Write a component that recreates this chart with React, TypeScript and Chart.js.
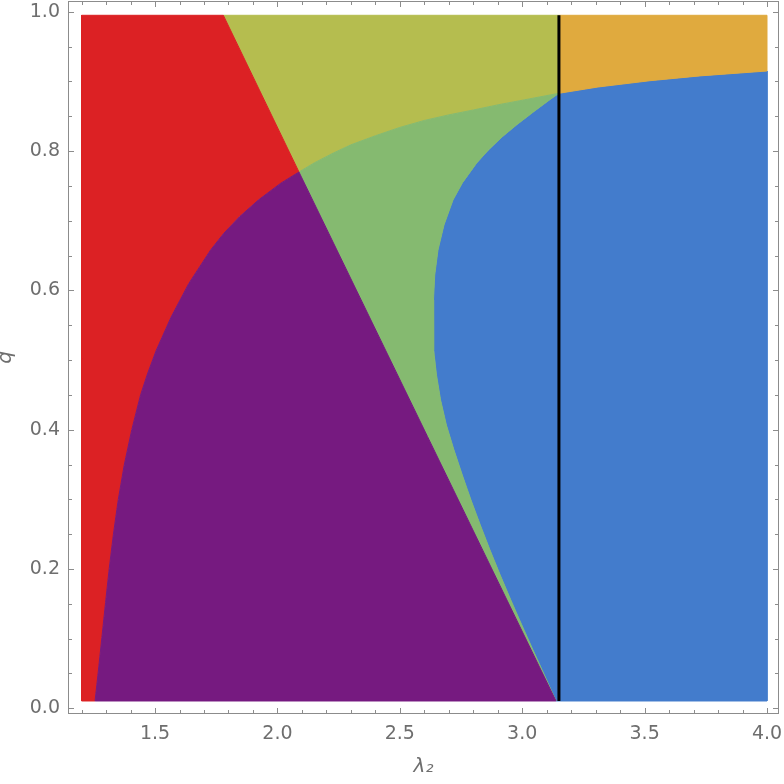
import React, { useEffect, useRef } from "react";
import { Chart, registerables } from "chart.js";

Chart.register(...registerables);

// ---- ranges ----
const lambdaMin = 1.2;
const lambdaMax = 4.0;
const qMin = 0.0105;
const qMax = 0.995;
const criticalLambda = 3.15;

const axisXMin = 1.14444;
const axisXMax = 4.04902;
const axisYMin = -0.00818;
const axisYMax = 1.01551;

// ---- ticks ----
const xMajorTicks = [1.5, 2.0, 2.5, 3.0, 3.5, 4.0];
const xMinorTicks = [1.2, 1.3, 1.4, 1.6, 1.7, 1.8, 1.9, 2.1, 2.2, 2.3, 2.4, 2.6, 2.7, 2.8, 2.9, 3.1, 3.2, 3.3, 3.4, 3.6, 3.7, 3.8, 3.9];
const yMajorTicks = [0.0, 0.2, 0.4, 0.6, 0.8, 1.0];
const yMinorTicks = [0.05, 0.1, 0.15, 0.25, 0.3, 0.35, 0.45, 0.5, 0.55, 0.65, 0.7, 0.75, 0.85, 0.9, 0.95];

// ---- boundary curves (lambda, q) ----
// red / purple boundary, from the bottom edge up to the triple point P
const lowerCurveLambda = [1.255, 1.268, 1.283, 1.298, 1.313, 1.33, 1.35, 1.374, 1.405, 1.441, 1.469, 1.505, 1.566, 1.638, 1.727, 1.781, 1.846, 1.923, 2.014, 2.088];
const lowerCurveQ = [0.0105, 0.052, 0.102, 0.152, 0.201, 0.25, 0.3, 0.349, 0.4, 0.45, 0.48, 0.514, 0.562, 0.61, 0.658, 0.682, 0.706, 0.73, 0.754, 0.77];

// straight boundary: top edge, P, bottom edge
const diagonalLambda = [1.779, 2.088, 3.138];
const diagonalQ = [0.995, 0.77, 0.0105];

// upper boundary from P to the right edge (passes through Q on the critical line)
const upperCurveLambda = [2.088, 2.15, 2.227, 2.3, 2.4, 2.5, 2.6, 2.7, 2.8, 2.909, 3.0, 3.15, 3.309, 3.52, 3.726, 4.0];
const upperCurveQ = [0.77, 0.783, 0.797, 0.809, 0.822, 0.834, 0.844, 0.852, 0.859, 0.867, 0.873, 0.883, 0.892, 0.901, 0.908, 0.915];

// green / blue boundary from Q down to the bottom edge
const innerCurveLambda = [3.15, 3.1114, 3.0456, 2.9766, 2.9177, 2.862, 2.8142, 2.7554, 2.7172, 2.6804, 2.6559, 2.6426, 2.6375, 2.6367, 2.6395, 2.6498, 2.6665, 2.6902, 2.7212, 2.7551, 2.7907, 2.8287, 2.8683, 2.91, 2.9533, 2.9982, 3.044, 3.0905, 3.138];
const innerCurveQ = [0.883, 0.8734, 0.8562, 0.8375, 0.8203, 0.8016, 0.783, 0.7543, 0.7298, 0.6939, 0.658, 0.6221, 0.5862, 0.5503, 0.5144, 0.4785, 0.4426, 0.4067, 0.3709, 0.335, 0.2991, 0.2632, 0.2273, 0.1914, 0.1556, 0.1197, 0.0838, 0.0479, 0.0105];

// ---- colours ----
const regionColors = {
  red: "#DC2124",
  purple: "#761A80",
  olive: "#B5BD4F",
  orange: "#E0AA3E",
  green: "#85BA70",
  blue: "#437CCC",
};
const frameColor = "#8c8c8c";
const labelColor = "#6e6e6e";
const fontFamily = "'DejaVu Sans', sans-serif";

type P = { x: number; y: number };
const pts = (ls: number[], qs: number[]): P[] => ls.map((l, i) => ({ x: l, y: qs[i] }));

function buildRegions() {
  const lower = pts(lowerCurveLambda, lowerCurveQ);
  const diag = pts(diagonalLambda, diagonalQ);
  const upper = pts(upperCurveLambda, upperCurveQ);
  const inner = pts(innerCurveLambda, innerCurveQ);
  const qIdx = upperCurveLambda.indexOf(criticalLambda);
  const upperLeft = upper.slice(0, qIdx + 1);
  const upperRight = upper.slice(qIdx);
  const P0 = lower[lower.length - 1];
  const diagTop = diag[0];
  const diagBottom = diag[diag.length - 1];

  const close = (a: P[]) => [...a, a[0]];

  const red = close([{ x: lambdaMin, y: qMin }, ...lower, diagTop, { x: lambdaMin, y: qMax }]);
  const purple = close([...lower, diagBottom]);
  const olive = close([diagTop, ...upperLeft, { x: criticalLambda, y: qMax }]);
  const orange = close([{ x: criticalLambda, y: qMax }, ...upperRight, { x: lambdaMax, y: qMax }]);
  const green = close([...upperLeft, ...inner.slice(1), P0]);
  const blue = close([...upperRight, { x: lambdaMax, y: qMin }, ...inner.slice().reverse()]);
  return { red, purple, olive, orange, green, blue };
}

const framePlugin = {
  id: "mmaFrame",
  afterDatasetsDraw(chart: any) {
    const { ctx, chartArea: a, scales } = chart;
    const x = scales.x;
    const y = scales.y;
    ctx.save();
    ctx.strokeStyle = frameColor;
    ctx.lineWidth = 1;
    ctx.strokeRect(a.left + 0.5, a.top + 0.5, a.right - a.left - 1, a.bottom - a.top - 1);
    ctx.beginPath();
    const xt = (vals: number[], len: number) => {
      for (const v of vals) {
        const px = Math.round(x.getPixelForValue(v)) + 0.5;
        ctx.moveTo(px, a.bottom);
        ctx.lineTo(px, a.bottom - len);
        ctx.moveTo(px, a.top);
        ctx.lineTo(px, a.top + len);
      }
    };
    const yt = (vals: number[], len: number) => {
      for (const v of vals) {
        const py = Math.round(y.getPixelForValue(v)) + 0.5;
        ctx.moveTo(a.left, py);
        ctx.lineTo(a.left + len, py);
        ctx.moveTo(a.right, py);
        ctx.lineTo(a.right - len, py);
      }
    };
    xt(xMajorTicks, 6);
    xt(xMinorTicks, 4);
    yt(yMajorTicks, 6);
    yt(yMinorTicks, 4);
    ctx.stroke();
    ctx.restore();
  },
};

export default function App() {
  const ref = useRef<HTMLCanvasElement>(null);

  useEffect(() => {
    const r = buildRegions();
    const poly = (data: P[], color: string) => ({
      data,
      borderColor: color,
      backgroundColor: color,
      borderWidth: 1,
      fill: "shape" as any,
      pointRadius: 0,
      tension: 0,
    });
    const chart = new Chart(ref.current!, {
      type: "line",
      data: {
        datasets: [
          {
            data: [
              { x: criticalLambda, y: qMin },
              { x: criticalLambda, y: qMax },
            ],
            borderColor: "#000000",
            borderWidth: 3,
            fill: false,
            pointRadius: 0,
          },
          poly(r.purple, regionColors.purple),
          poly(r.red, regionColors.red),
          poly(r.green, regionColors.green),
          poly(r.olive, regionColors.olive),
          poly(r.orange, regionColors.orange),
          poly(r.blue, regionColors.blue),
        ] as any,
      },
      options: {
        animation: false,
        responsive: false,
        devicePixelRatio: 1,
        layout: { padding: { top: 1, right: 5, left: 0, bottom: 0 } },
        plugins: { legend: { display: false }, tooltip: { enabled: false } },
        elements: { point: { radius: 0 }, line: { tension: 0 } },
        scales: {
          x: {
            type: "linear",
            min: axisXMin,
            max: axisXMax,
            grid: { display: false, drawTicks: false },
            border: { display: false },
            afterBuildTicks: (s: any) => {
              s.ticks = xMajorTicks.map((v) => ({ value: v }));
            },
            afterFit: (s: any) => {
              s.height = 70;
              s.paddingLeft = 0;
              s.paddingRight = 0;
            },
            ticks: {
              callback: (v: any) => Number(v).toFixed(1),
              font: { family: fontFamily, size: 19 },
              color: labelColor,
              padding: 9,
              maxRotation: 0,
              autoSkip: false,
            },
            title: {
              display: true,
              text: "λ₂",
              font: { family: fontFamily, size: 20, style: "italic" },
              color: labelColor,
              padding: { top: 0, bottom: 5 },
            },
          },
          y: {
            type: "linear",
            min: axisYMin,
            max: axisYMax,
            grid: { display: false, drawTicks: false },
            border: { display: false },
            afterBuildTicks: (s: any) => {
              s.ticks = yMajorTicks.map((v) => ({ value: v }));
            },
            afterFit: (s: any) => {
              s.width = 68;
              s.paddingTop = 0;
              s.paddingBottom = 0;
            },
            ticks: {
              callback: (v: any) => Number(v).toFixed(1),
              font: { family: fontFamily, size: 19 },
              color: labelColor,
              padding: 8,
              autoSkip: false,
            },
            title: {
              display: true,
              text: "q",
              font: { family: fontFamily, size: 20, style: "italic", lineHeight: 0.6 },
              color: labelColor,
              padding: { top: 0, bottom: 0 },
            },
          },
        },
      } as any,
      plugins: [framePlugin],
    });
    return () => chart.destroy();
  }, []);

  return (
    <div style={{ position: "fixed", left: 0, top: 0, width: 784, height: 784, background: "#ffffff" }}>
      <canvas ref={ref} width={784} height={784} style={{ display: "block", width: 784, height: 784 }} />
    </div>
  );
}
